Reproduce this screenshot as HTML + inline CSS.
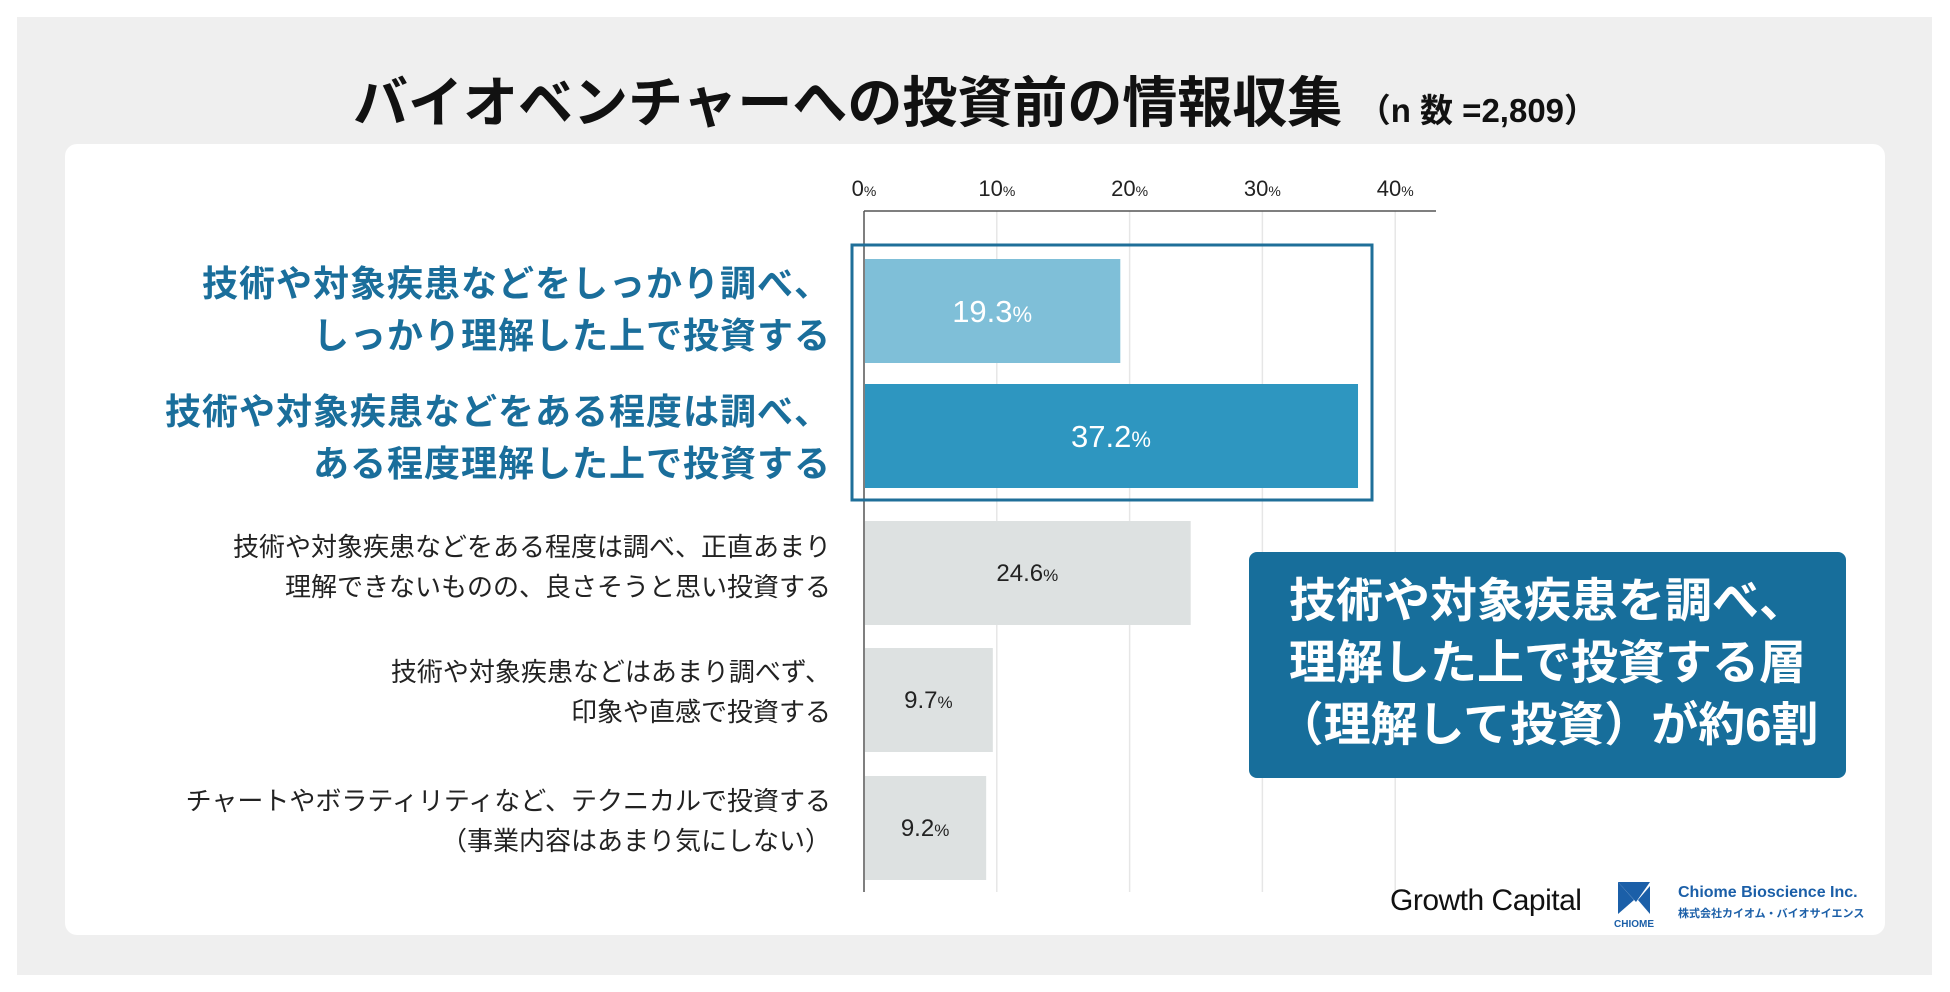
<!DOCTYPE html>
<html><head><meta charset="utf-8">
<style>
body{margin:0;width:1950px;height:992px;background:#fff;font-family:"Liberation Sans","Noto Sans CJK JP",sans-serif;overflow:hidden}
#bg{position:absolute;left:17px;top:17px;width:1915px;height:958px;background:#efefef}
#card{position:absolute;left:65px;top:144px;width:1820px;height:791px;background:#fff;border-radius:12px}
#title{position:absolute;left:0;width:1950px;top:58px;text-align:center;font-size:55px;font-weight:bold;color:#111;white-space:nowrap}
#title span{font-size:33px;font-weight:bold}
.lbl{position:absolute;right:1119px;text-align:right;white-space:nowrap}
.big{font-size:36px;font-weight:bold;color:#1a6e9b;line-height:52px;letter-spacing:1px}
.sm{font-size:26px;color:#222;line-height:40px}
#callout{position:absolute;left:1249px;top:552px;width:597px;height:226px;background:#176e9b;border-radius:8px;color:#fff;font-size:47px;font-weight:bold;line-height:62px;text-align:center;padding-top:18px;box-sizing:border-box;white-space:nowrap}
</style></head><body>
<div id="bg"></div>
<div id="card"></div>
<div id="title">バイオベンチャーへの投資前の情報収集 <span>（n 数 =2,809）</span></div>
<div class="lbl big" style="top:258px">技術や対象疾患などをしっかり調べ、<br>しっかり理解した上で投資する</div>
<div class="lbl big" style="top:386px">技術や対象疾患などをある程度は調べ、<br>ある程度理解した上で投資する</div>
<div class="lbl sm" style="top:527px">技術や対象疾患などをある程度は調べ、正直あまり<br>理解できないものの、良さそうと思い投資する</div>
<div class="lbl sm" style="top:652px">技術や対象疾患などはあまり調べず、<br>印象や直感で投資する</div>
<div class="lbl sm" style="top:781px">チャートやボラティリティなど、テクニカルで投資する<br>（事業内容はあまり気にしない）</div>
<svg id="chart" width="1950" height="992" style="position:absolute;left:0;top:0"></svg>
<div id="callout">技術や対象疾患を調べ、<br>理解した上で投資する層<br>（理解して投資）が約6割</div>
<div style="position:absolute;left:1390px;top:884px;font-size:30px;color:#111;letter-spacing:-0.5px">Growth Capital</div>
<svg style="position:absolute;left:1612px;top:880px" width="44" height="50">
<polygon points="6,2 38,2 24,22" fill="#1b5fa8"/><polygon points="6,2 22,20 6,34" fill="#1b5fa8"/><polygon points="38,6 38,34 26,20" fill="#1b5fa8"/>
<text x="22" y="47" font-size="10" font-weight="bold" fill="#1b5fa8" text-anchor="middle" font-family="Liberation Sans">CHIOME</text></svg>
<div style="position:absolute;left:1678px;top:884px;font-size:16px;font-weight:bold;color:#1b5fa8">Chiome Bioscience Inc.</div>
<div style="position:absolute;left:1678px;top:905px;font-size:11px;font-weight:bold;color:#1b5fa8">株式会社カイオム・バイオサイエンス</div>
<script>
const categories=["thorough","moderate","not-understood","intuition","technical"];
const values=[19.3,37.2,24.6,9.7,9.2];
const ticks=[0,10,20,30,40];
const colors=["#7fbfd8","#2e96c0","#dde1e1","#dde1e1","#dde1e1"];
const textColors=["#fff","#fff","#222","#222","#222"];
const x0=864,pxPer=13.28,barTop=[259,384,521,648,776],barH=104;
const xs=v=>x0+v*pxPer;
const svg=document.getElementById('chart');const NS="http://www.w3.org/2000/svg";
function mk(t,a){const e=document.createElementNS(NS,t);for(const k in a)e.setAttribute(k,a[k]);svg.appendChild(e);return e;}
ticks.forEach(t=>{
 if(t>0){const g=mk('line',{x1:xs(t),x2:xs(t),y1:211,y2:892,stroke:'#e6e6e6','stroke-width':1.5});
 
 }
 const tx=mk('text',{x:xs(t),y:196,'text-anchor':'middle','font-size':22,fill:'#222','font-family':'Liberation Sans'});
 tx.innerHTML=t+'<tspan font-size="14">%</tspan>';
 
 
});
const ax=mk('line',{x1:864,x2:1436,y1:211,y2:211,stroke:'#555','stroke-width':1.5});


const ay=mk('line',{x1:864,x2:864,y1:211,y2:892,stroke:'#555','stroke-width':1.5});


values.forEach((v,i)=>{
 const r=mk('rect',{x:x0+1,y:barTop[i],width:xs(v)-x0-1,height:barH,fill:colors[i]});
 
 
 const big=i<2;
 const t=mk('text',{x:(x0+xs(v))/2,y:barTop[i]+barH/2+(big?11:8),'text-anchor':'middle','font-size':big?31:24,fill:textColors[i],'font-family':'Liberation Sans'});
 t.innerHTML=v.toFixed(1)+'<tspan font-size="'+(big?22:17)+'">%</tspan>';
 
 
});
const hb=mk('rect',{x:852,y:245,width:520,height:255,fill:'none',stroke:'#1f6f99','stroke-width':3});


</script>
</body></html>
